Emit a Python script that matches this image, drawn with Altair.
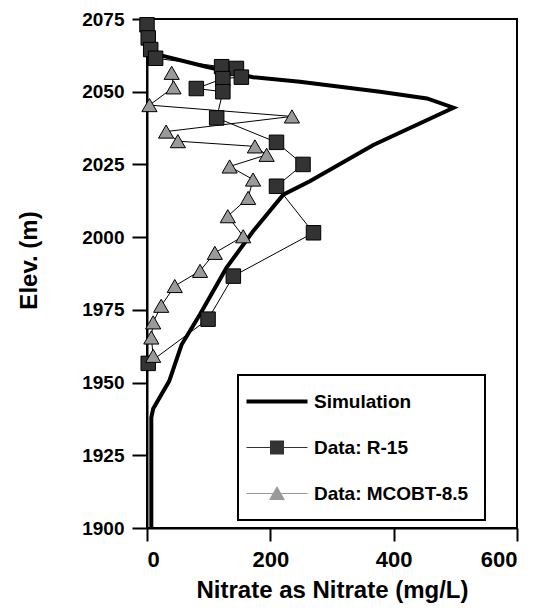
import altair as alt
import pandas as pd

# Simulation profile (nitrate mg/L, elevation m), in drawing order
sim_x = [7, 7, 10, 36, 56, 86, 129, 172, 221, 264, 367, 497, 454, 378, 248, 172, 96, 21, 6, 3]
sim_y = [1900, 1938, 1941, 1950.5, 1963, 1973.5, 1989.5, 2002, 2014.6, 2019.2, 2031.7,
         2044.5, 2047.7, 2050, 2053.4, 2055, 2058.6, 2062.6, 2064, 2075]

# Data: R-15 (top to bottom)
r15_x = [0, 2, 6, 14, 121, 145, 153, 123, 80, 123, 113, 210, 253, 210, 270, 140, 99, 2]
r15_y = [2073, 2068.5, 2064.5, 2061.5, 2058.6, 2058, 2055, 2054.5, 2051.1, 2050, 2041,
         2032.6, 2025, 2017.5, 2001.5, 1986.6, 1971.8, 1956.6]

# Data: MCOBT-8.5 (top to bottom)
mc_x = [40, 43, 4, 235, 31, 50, 175, 194, 134, 172, 164, 131, 156, 110, 86, 45, 23, 10, 7, 10]
mc_y = [2056.5, 2051.5, 2045.4, 2041.5, 2036.3, 2033, 2031.2, 2028.3, 2024.3, 2019.8,
        2013.5, 2007.2, 2000.3, 1994.6, 1988.4, 1983.2, 1976.4, 1970.7, 1965.5, 1959.2]

series_names = ["Simulation", "Data: R-15", "Data: MCOBT-8.5"]
y_ticks = [1900, 1925, 1950, 1975, 2000, 2025, 2050, 2075]
x_ticks = [0, 200, 400, 600]


def frame(xs, ys, name):
    return pd.DataFrame({"nitrate": xs, "elev": ys, "idx": list(range(len(xs))), "series": name})


sim = frame(sim_x, sim_y, series_names[0])
r15 = frame(r15_x, r15_y, series_names[1])
mc = frame(mc_x, mc_y, series_names[2])
alldf = pd.concat([sim, r15, mc], ignore_index=True)

FONT = "Liberation Sans"

xenc = alt.X("nitrate:Q", scale=alt.Scale(domain=[0, 600], nice=False),
             axis=alt.Axis(values=x_ticks, title="Nitrate as Nitrate (mg/L)", format="d"))
yenc = alt.Y("elev:Q", scale=alt.Scale(domain=[1900, 2075], nice=False, zero=False),
             axis=alt.Axis(values=y_ticks, title="Elev. (m)", format="d", titleY=241))

sim_line = alt.Chart(sim).mark_line(color="black", strokeWidth=4).encode(
    x=xenc, y=yenc, order=alt.Order("idx:Q"))

r15_line = alt.Chart(r15).mark_line(color="black", strokeWidth=1).encode(
    x="nitrate:Q", y="elev:Q", order=alt.Order("idx:Q"))
r15_pts = alt.Chart(r15).mark_point(shape="square", filled=True, fill="#333333",
                                    stroke="black", strokeWidth=1, opacity=1, size=210).encode(
    x="nitrate:Q", y="elev:Q")

mc_line = alt.Chart(mc).mark_line(color="black", strokeWidth=1).encode(
    x="nitrate:Q", y="elev:Q", order=alt.Order("idx:Q"))
mc_pts = alt.Chart(mc).mark_point(shape="triangle-up", filled=True, fill="#9a9a9a",
                                  stroke="black", strokeWidth=1, opacity=1, size=230).encode(
    x="nitrate:Q", y="elev:Q")

# Legend symbols: line + marker glyphs as custom paths
sym_sim = "M-1.8,-0.2H4.3V0.2H-1.8Z"
sym_r15 = ("M-1.8,-0.06H0.55V0.06H-1.8Z M1.95,-0.06H4.3V0.06H1.95Z "
           "M0.55,-0.7H1.95V0.7H0.55Z")
sym_mc = ("M-1.8,-0.06H0.82V0.06H-1.8Z M1.68,-0.06H4.3V0.06H1.68Z "
          "M1.25,-0.75L2.05,0.65H0.45Z")

leg = alt.Legend(title=None, orient="none", legendX=91, legendY=356,
                 padding=16, rowPadding=25, labelOffset=39, symbolSize=400,
                 symbolOpacity=1, symbolStrokeColor="black", symbolStrokeWidth=1,
                 labelFont=FONT, labelFontSize=19, labelFontWeight="bold", labelColor="black",
                 strokeColor="black", fillColor="white", labelLimit=300)

legend_layer = alt.Chart(alldf).mark_point(filled=True, opacity=0).encode(
    x="nitrate:Q", y="elev:Q",
    shape=alt.Shape("series:N", scale=alt.Scale(domain=series_names,
                                                range=[sym_sim, sym_r15, sym_mc]), legend=leg),
    fill=alt.Fill("series:N", scale=alt.Scale(domain=series_names,
                                              range=["black", "#333333", "#9a9a9a"]), legend=leg),
)

chart = alt.layer(sim_line, r15_line, mc_line, r15_pts, mc_pts, legend_layer).properties(
    width=370, height=509,
    autosize=alt.AutoSizeParams(type="none"),
    padding={"left": 139, "top": 11, "right": 17, "bottom": 75},
    background="white",
).configure_view(
    stroke="black", strokeWidth=2
).configure_axis(
    grid=False, domainColor="black", domainWidth=2, tickColor="black", tickWidth=2,
    labelFont=FONT, labelFontWeight="bold", labelColor="black",
    titleFont=FONT, titleFontWeight="bold", titleColor="black",
).configure_axisX(
    tickSize=13, labelFontSize=22, labelPadding=8, titleFontSize=24, titlePadding=8,
).configure_axisY(
    tickSize=15, labelFontSize=19, labelPadding=8, titleFontSize=24, titlePadding=40,
).configure_legend(
    strokeWidth=2
)

chart.save("out.html", embed_options={"renderer": "svg", "actions": False})
